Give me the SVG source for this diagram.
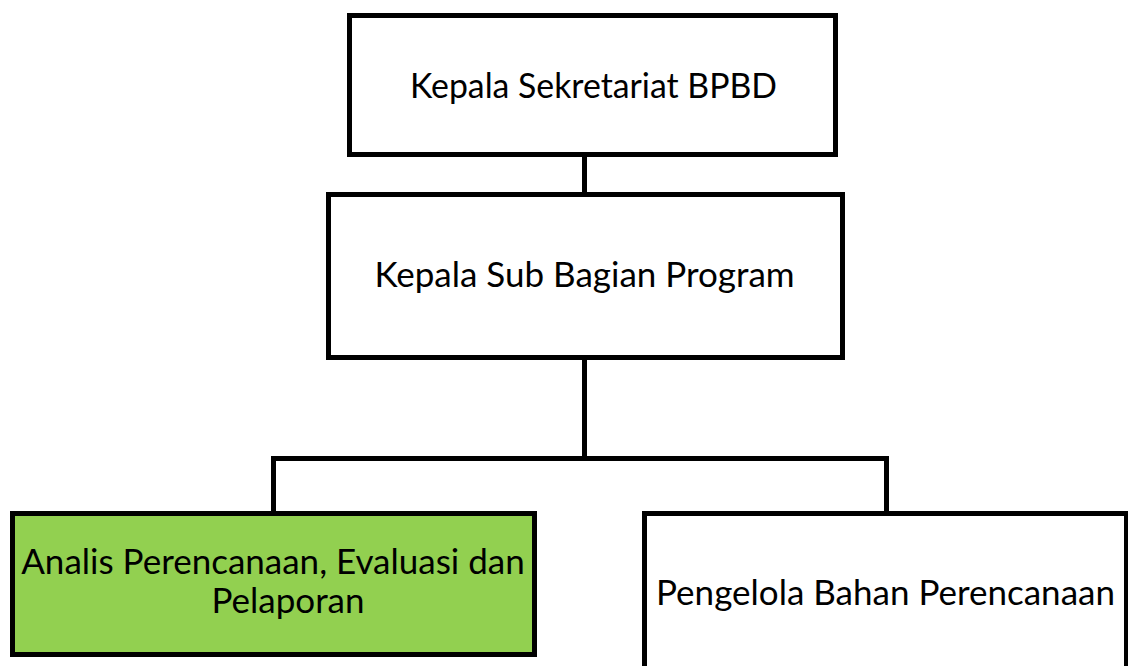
<svg xmlns="http://www.w3.org/2000/svg" width="1128" height="666" viewBox="0 0 1128 666">
<style>
.box{fill:#ffffff;stroke:#000000;stroke-width:5}
.green{fill:#92D050}
.lbl{font-family:Lato,"Open Sans","Liberation Sans",sans-serif;font-size:35px;fill:#000000;text-anchor:middle}
.conn{fill:none;stroke:#000000;stroke-width:5}
</style>
<rect width="1128" height="666" fill="#ffffff"/>
<g id="connectors">
<line class="conn" x1="584.5" y1="157" x2="584.5" y2="192"/>
<line class="conn" x1="584.5" y1="360" x2="584.5" y2="458.5"/>
<polyline class="conn" points="273.5,511 273.5,458.5 886.5,458.5 886.5,511"/>
</g>
<g id="kepala-sekretariat">
<rect class="box" x="349.5" y="15.5" width="486" height="139"/>
<text class="lbl" x="593.5" y="98" style="font-size:33.8px">Kepala Sekretariat BPBD</text>
</g>
<g id="kepala-sub-bagian">
<rect class="box" x="328.5" y="194.5" width="514" height="163"/>
<text class="lbl" x="584.5" y="287">Kepala Sub Bagian Program</text>
</g>
<g id="analis">
<rect class="box green" x="12.5" y="513.5" width="522" height="141"/>
<text class="lbl" x="273" y="574">Analis Perencanaan, Evaluasi dan</text>
<text class="lbl" x="288" y="613">Pelaporan</text>
</g>
<g id="pengelola">
<rect class="box" x="644.5" y="513.5" width="482" height="170"/>
<text class="lbl" x="885.5" y="605">Pengelola Bahan Perencanaan</text>
</g>
</svg>
